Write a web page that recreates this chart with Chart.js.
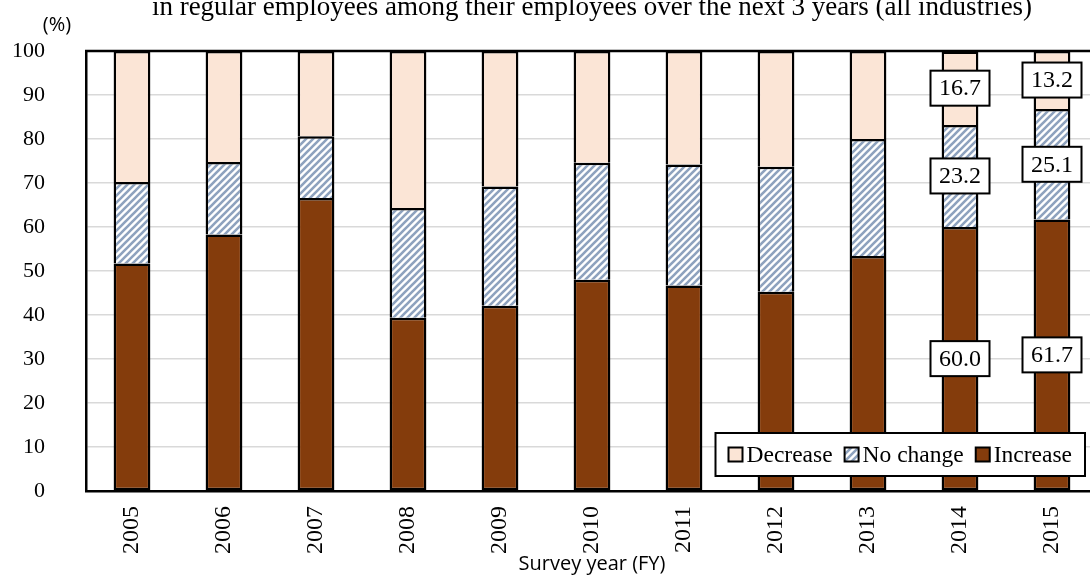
<!DOCTYPE html>
<html lang="en">
<head>
<meta charset="UTF-8">
<title>Survey year (FY)</title>
<script src="https://cdn.jsdelivr.net/npm/chart.js"></script>
<style>
  html, body { margin: 0; padding: 0; overflow: hidden; background: #fff; }
  .chart-wrap { position: absolute; left: 0; top: -24px; width: 1100px; height: 600px; }
</style>
</head>
<body>
<div class="chart-wrap"><canvas id="hiringChart" width="1100" height="600"></canvas></div>
<script>
// survey results, % of companies (all industries)
const years = ['2005', '2006', '2007', '2008', '2009', '2010', '2011', '2012', '2013', '2014', '2015'];
const increase = [51.7, 58.3, 66.6, 39.4, 42.1, 48.0, 46.7, 45.3, 53.4, 60.0, 61.7];
const noChange = [18.5, 16.5, 14.0, 24.9, 27.1, 26.6, 27.5, 28.4, 26.6, 23.2, 25.1];
const decrease = [29.8, 25.2, 19.4, 35.7, 30.8, 25.4, 25.8, 26.3, 20.0, 16.7, 13.2];
const yTicks = [0, 10, 20, 30, 40, 50, 60, 70, 80, 90, 100];
const labeledYears = ['2014', '2015'];

const serif = "'Liberation Serif', 'Times New Roman', serif";
const sans = "'Open Sans', 'Liberation Sans', sans-serif";

const canvas = document.getElementById('hiringChart');
const ctx = canvas.getContext('2d');

// blue diagonal stripes for "No change"
function makeHatch() {
    const n = 7;
    const c = document.createElement('canvas');
    c.width = n; c.height = n;
    const g = c.getContext('2d');
    g.fillStyle = '#ffffff';
    g.fillRect(0, 0, n, n);
    g.strokeStyle = '#8ea2be';
    g.lineWidth = 2.6;
    g.beginPath();
    g.moveTo(-1, n + 1); g.lineTo(n + 1, -1);
    g.moveTo(-1, 1); g.lineTo(1, -1);
    g.moveTo(n - 1, n + 1); g.lineTo(n + 1, n - 1);
    g.stroke();
    return ctx.createPattern(c, 'repeat');
}
const hatch = makeHatch();

// white boxes with the value for the last two years
const valueBoxes = {
    id: 'valueBoxes',
    afterDatasetsDraw(chart) {
        const c = chart.ctx;
        const { top } = chart.chartArea;
        // frame line across the top of the plot
        c.save();
        c.strokeStyle = '#000';
        c.lineWidth = 2.5;
        c.beginPath();
        c.moveTo(chart.chartArea.left - 1, top);
        c.lineTo(chart.width, top);
        c.stroke();

        c.font = '24px ' + serif;
        c.textAlign = 'center';
        c.textBaseline = 'middle';
        chart.data.datasets.forEach((ds, di) => {
            const meta = chart.getDatasetMeta(di);
            meta.data.forEach((bar, i) => {
                if (!labeledYears.includes(years[i])) return;
                const cy = (bar.y + bar.base) / 2;
                const w = 59, h = 35;
                c.fillStyle = '#fff';
                c.fillRect(bar.x - w / 2, cy - h / 2, w, h);
                c.strokeStyle = '#000';
                c.lineWidth = 2;
                c.strokeRect(bar.x - w / 2, cy - h / 2, w, h);
                c.fillStyle = '#000';
                c.fillText(ds.data[i].toFixed(1), bar.x, cy + 1);
            });
        });
        c.restore();
    }
};

// "(%)" unit label and the boxed legend inside the plot
const extras = {
    id: 'extras',
    afterDraw(chart) {
        const c = chart.ctx;
        const area = chart.chartArea;
        c.save();
        c.font = '20px ' + sans;
        c.fillStyle = '#000';
        c.textAlign = 'center';
        c.textBaseline = 'middle';
        c.fillText('(%)', 57, 49);

        const items = [
            { label: 'Decrease', fill: '#fbe5d6' },
            { label: 'No change', fill: hatch },
            { label: 'Increase', fill: '#843c0c' }
        ];
        c.font = '23.5px ' + serif;
        const sw = 14, gap = 4, itemGap = 12, padX = 13;
        let total = padX * 2 - itemGap;
        items.forEach(it => { it.w = c.measureText(it.label).width; total += sw + gap + it.w + itemGap; });
        const boxH = 43;
        const right = area.right - 13;
        const bottom = area.bottom - 15;
        const left = right - total;
        const topY = bottom - boxH;
        c.fillStyle = '#fff';
        c.fillRect(left, topY, total, boxH);
        c.strokeStyle = '#000';
        c.lineWidth = 2;
        c.strokeRect(left, topY, total, boxH);

        const my = topY + boxH / 2;
        let x = left + padX;
        c.textAlign = 'left';
        items.forEach(it => {
            c.fillStyle = it.fill;
            c.fillRect(x, my - sw / 2, sw, sw);
            c.lineWidth = 2;
            c.strokeRect(x, my - sw / 2, sw, sw);
            c.fillStyle = '#000';
            c.fillText(it.label, x + sw + gap, my + 1);
            x += sw + gap + it.w + itemGap;
        });
        c.restore();
    }
};

const segmentBorder = { top: 2.5, left: 2.5, right: 2.5, bottom: 0 };

new Chart(ctx, {
    type: 'bar',
    data: {
        labels: years,
        datasets: [
            {
                label: 'Increase',
                data: increase,
                backgroundColor: '#843c0c',
                borderColor: '#000',
                borderWidth: 2.5,
                borderSkipped: false
            },
            {
                label: 'No change',
                data: noChange,
                backgroundColor: hatch,
                borderColor: '#000',
                borderWidth: segmentBorder,
                borderSkipped: false
            },
            {
                label: 'Decrease',
                data: decrease,
                backgroundColor: '#fbe5d6',
                borderColor: '#000',
                borderWidth: segmentBorder,
                borderSkipped: false
            }
        ]
    },
    options: {
        responsive: false,
        animation: false,
        barPercentage: 0.4,
        categoryPercentage: 1,
        layout: { padding: { left: 0, right: 2, bottom: 0 } },
        scales: {
            x: {
                stacked: true,
                grid: { display: false, drawTicks: false },
                border: { display: true, color: '#000', width: 2.5 },
                ticks: {
                    color: '#000',
                    font: { family: serif, size: 24 },
                    minRotation: 90,
                    maxRotation: 90,
                    padding: 15
                },
                title: {
                    display: true,
                    text: 'Survey year (FY)',
                    color: '#000',
                    font: { family: sans, size: 20 },
                    padding: { top: 0, bottom: 0 }
                },
                afterFit(scale) { scale.height = 85; }
            },
            y: {
                stacked: true,
                min: 0,
                max: 100,
                afterBuildTicks(scale) { scale.ticks = yTicks.map(v => ({ value: v })); },
                grid: { color: '#d9d9d9', lineWidth: 1.5, drawTicks: false },
                border: { display: true, color: '#000', width: 2.5 },
                ticks: {
                    color: '#000',
                    font: { family: serif, size: 22 },
                    padding: 41
                },
                afterFit(scale) { scale.width = 86; }
            }
        },
        plugins: {
            legend: { display: false },
            tooltip: { enabled: false },
            title: {
                display: true,
                fullSize: false,
                text: 'in regular employees among their employees over the next 3 years (all industries)',
                color: '#000',
                font: { family: serif, size: 27, weight: 'normal' },
                padding: { top: 16, bottom: 26.6 }
            }
        }
    },
    plugins: [valueBoxes, extras]
});
</script>
</body>
</html>
